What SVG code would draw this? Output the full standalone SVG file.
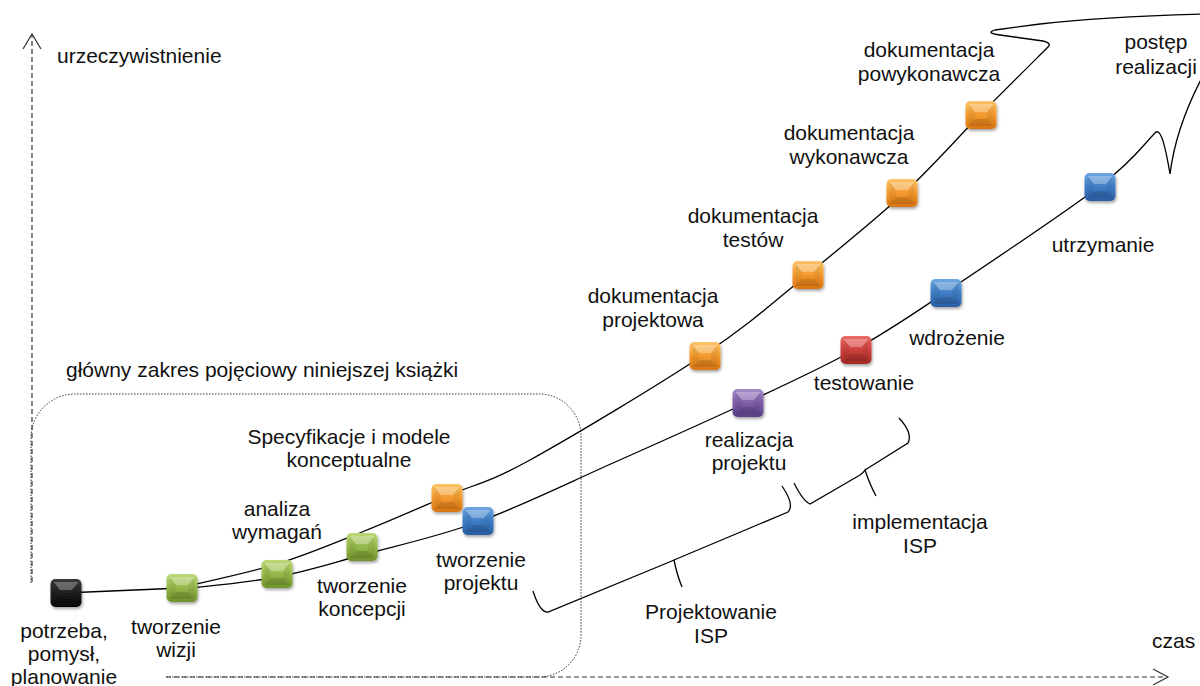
<svg xmlns="http://www.w3.org/2000/svg" xmlns:xlink="http://www.w3.org/1999/xlink" width="1200" height="686" viewBox="0 0 1200 686">
  <style>
    .t { font-family: "Liberation Sans", Arial, sans-serif; font-size: 21px; fill: #111; text-anchor: middle; }
    .ts { text-anchor: start; }
    .line { fill: none; stroke: #000; stroke-width: 1.3; }
    .axis { fill: none; stroke: #333; stroke-width: 1.2; stroke-dasharray: 5 3; }
    .head { fill: none; stroke: #333; stroke-width: 1.2; }
    .scope { fill: none; stroke: #333; stroke-width: 1; stroke-dasharray: 1.5 1.5; }
  </style>
  <defs>
    <filter id="sh" x="-40%" y="-40%" width="180%" height="190%">
      <feDropShadow dx="1" dy="2" stdDeviation="1.5" flood-color="#000" flood-opacity="0.35"/>
    </filter>
    <linearGradient id="g-black" x1="0" y1="0" x2="0" y2="1">
      <stop offset="0" stop-color="#3a3a3a"/><stop offset="1" stop-color="#050505"/>
    </linearGradient>
    <linearGradient id="g-green" x1="0" y1="0" x2="0" y2="1">
      <stop offset="0" stop-color="#bcd878"/><stop offset="0.5" stop-color="#94b84a"/><stop offset="1" stop-color="#6f922c"/>
    </linearGradient>
    <linearGradient id="g-orange" x1="0" y1="0" x2="0" y2="1">
      <stop offset="0" stop-color="#fcc469"/><stop offset="0.5" stop-color="#f39a2e"/><stop offset="1" stop-color="#d87412"/>
    </linearGradient>
    <linearGradient id="g-blue" x1="0" y1="0" x2="0" y2="1">
      <stop offset="0" stop-color="#6fa8e0"/><stop offset="0.5" stop-color="#3f7dc6"/><stop offset="1" stop-color="#2a5ea4"/>
    </linearGradient>
    <linearGradient id="g-purple" x1="0" y1="0" x2="0" y2="1">
      <stop offset="0" stop-color="#a68bcb"/><stop offset="0.5" stop-color="#7d5ea8"/><stop offset="1" stop-color="#5c3f86"/>
    </linearGradient>
    <linearGradient id="g-red" x1="0" y1="0" x2="0" y2="1">
      <stop offset="0" stop-color="#ea6d68"/><stop offset="0.5" stop-color="#cc3f3a"/><stop offset="1" stop-color="#a52a26"/>
    </linearGradient>
    <!-- bevelled face shared by all step boxes -->
    <g id="bevel">
      <polygon points="-12.5,-11 12.5,-11 6,-3 -6,-3" fill="#fff" opacity="0.28"/>
      <polygon points="-12.5,11 12.5,11 6,4 -6,4" fill="#000" opacity="0.12"/>
      <polygon points="-12.5,-11 -6,-3 -6,4 -12.5,11" fill="#000" opacity="0.05"/>
      <polygon points="12.5,-11 6,-3 6,4 12.5,11" fill="#000" opacity="0.05"/>
    </g>
    <rect id="cell" x="-15.5" y="-14" width="31" height="28" rx="5" ry="5"/>
  </defs>

  <!-- axes -->
  <g id="axes">
    <line class="axis" x1="32" y1="582" x2="32" y2="35"/>
    <polyline class="head" points="23,49 32,34 41,49"/>
    <line class="axis" x1="166" y1="677" x2="1166" y2="677"/>
    <polyline class="head" points="1153,669 1168,677 1153,685"/>
  </g>

  <!-- dotted scope frame -->
  <path class="scope" d="M31,583 V438 A44,44 0 0 1 75,394 H539 A42,42 0 0 1 581,436 V635 A42,42 0 0 1 539,677 H166"/>

  <!-- connectors -->
  <g id="connectors">
    <line class="line" x1="64" y1="593" x2="182" y2="588" stroke-width="1.8"/>
    <!-- documentation track, ending in the outline of the progress arrow -->
    <path class="line" d="M183,587 C198.7,583.2 247.2,573.2 277,564 C306.8,554.8 333.7,543.3 362,532 C390.3,520.7 419,508 447,496 C475,484 487,483.7 530,460 C573,436.3 658.8,384.8 705,354 C751.2,323.2 774,301.7 807,275 C840,248.3 874,220.8 903,194 C932,167.2 956.8,138.5 981,114 C1005.2,89.5 1036.8,58.2 1048,47 Q1052,43 1043,41 L1000,35 Q985,33 995,30 L1040,24 Q1100,17 1205,14"/>
    <!-- realisation track -->
    <path class="line" d="M183,589 C198.7,587 247.2,582.7 277,577 C306.8,571.3 328.5,564.2 362,555 C395.5,545.8 436.2,537.3 478,522 C519.8,506.7 568,483 613,463 C658,443 707.5,421 748,402 C788.5,383.3 823,367.3 856,349 C889,330.7 905.3,319.2 946,292 C986.7,264.8 1065.2,212.5 1100,186 C1134.8,159.5 1145.8,141.8 1155,133 C1161,126 1166,150 1170,174 C1173,150 1180,118 1205,72"/>
    <!-- braces -->
    <path class="line" d="M533,591 Q540,613 548,612 L667,563 Q672,561 674,560 Q677,575 682,587 M674,560 L788,512 Q795,505 782,486"/>
    <path class="line" d="M794,483 Q803,501 810,504 L860,475 Q864,472 865,470 Q870,485 876,496 M865,470 L908,443 Q913,433 899,418"/>
  </g>

  <!-- steps -->
  <g id="node-start" transform="translate(66,593)" filter="url(#sh)"><use href="#cell" fill="url(#g-black)"/><use href="#bevel"/></g>
  <g id="node-vision" transform="translate(182,588)" filter="url(#sh)"><use href="#cell" fill="url(#g-green)"/><use href="#bevel"/></g>
  <g id="node-requirements" transform="translate(277,574)" filter="url(#sh)"><use href="#cell" fill="url(#g-green)"/><use href="#bevel"/></g>
  <g id="node-concept" transform="translate(362,547)" filter="url(#sh)"><use href="#cell" fill="url(#g-green)"/><use href="#bevel"/></g>
  <g id="node-specs" transform="translate(447,498)" filter="url(#sh)"><use href="#cell" fill="url(#g-orange)"/><use href="#bevel"/></g>
  <g id="node-design" transform="translate(478,521)" filter="url(#sh)"><use href="#cell" fill="url(#g-blue)"/><use href="#bevel"/></g>
  <g id="node-doc-design" transform="translate(705,356)" filter="url(#sh)"><use href="#cell" fill="url(#g-orange)"/><use href="#bevel"/></g>
  <g id="node-doc-tests" transform="translate(808,275)" filter="url(#sh)"><use href="#cell" fill="url(#g-orange)"/><use href="#bevel"/></g>
  <g id="node-doc-exec" transform="translate(902,193)" filter="url(#sh)"><use href="#cell" fill="url(#g-orange)"/><use href="#bevel"/></g>
  <g id="node-doc-asbuilt" transform="translate(981,115)" filter="url(#sh)"><use href="#cell" fill="url(#g-orange)"/><use href="#bevel"/></g>
  <g id="node-build" transform="translate(748,403)" filter="url(#sh)"><use href="#cell" fill="url(#g-purple)"/><use href="#bevel"/></g>
  <g id="node-test" transform="translate(856,350)" filter="url(#sh)"><use href="#cell" fill="url(#g-red)"/><use href="#bevel"/></g>
  <g id="node-deploy" transform="translate(946,293)" filter="url(#sh)"><use href="#cell" fill="url(#g-blue)"/><use href="#bevel"/></g>
  <g id="node-maintain" transform="translate(1100,187)" filter="url(#sh)"><use href="#cell" fill="url(#g-blue)"/><use href="#bevel"/></g>

  <!-- labels -->
  <g id="labels">
    <text class="t ts" x="57" y="63">urzeczywistnienie</text>
    <text class="t ts" x="1152" y="648">czas</text>
    <text class="t ts" x="66" y="377">główny zakres pojęciowy niniejszej książki</text>
    <text class="t" x="929" y="57">dokumentacja</text>
    <text class="t" x="929" y="81">powykonawcza</text>
    <text class="t" x="1156" y="49">postęp</text>
    <text class="t" x="1156" y="74">realizacji</text>
    <text class="t" x="849" y="140">dokumentacja</text>
    <text class="t" x="849" y="164">wykonawcza</text>
    <text class="t" x="753" y="223">dokumentacja</text>
    <text class="t" x="753" y="247">testów</text>
    <text class="t" x="1103" y="252">utrzymanie</text>
    <text class="t" x="653" y="303">dokumentacja</text>
    <text class="t" x="653" y="327">projektowa</text>
    <text class="t" x="957" y="345">wdrożenie</text>
    <text class="t" x="864" y="390">testowanie</text>
    <text class="t" x="749" y="447">realizacja</text>
    <text class="t" x="749" y="470">projektu</text>
    <text class="t" x="920" y="529">implementacja</text>
    <text class="t" x="920" y="553">ISP</text>
    <text class="t" x="711" y="619">Projektowanie</text>
    <text class="t" x="711" y="643">ISP</text>
    <text class="t" x="481" y="567">tworzenie</text>
    <text class="t" x="481" y="590">projektu</text>
    <text class="t" x="362" y="593">tworzenie</text>
    <text class="t" x="362" y="616">koncepcji</text>
    <text class="t" x="277" y="516">analiza</text>
    <text class="t" x="277" y="539">wymagań</text>
    <text class="t" x="349" y="444">Specyfikacje i modele</text>
    <text class="t" x="349" y="467">konceptualne</text>
    <text class="t" x="176" y="634">tworzenie</text>
    <text class="t" x="176" y="657">wizji</text>
    <text class="t" x="64" y="638">potrzeba,</text>
    <text class="t" x="64" y="661">pomysł,</text>
    <text class="t" x="64" y="684">planowanie</text>
  </g>
</svg>
